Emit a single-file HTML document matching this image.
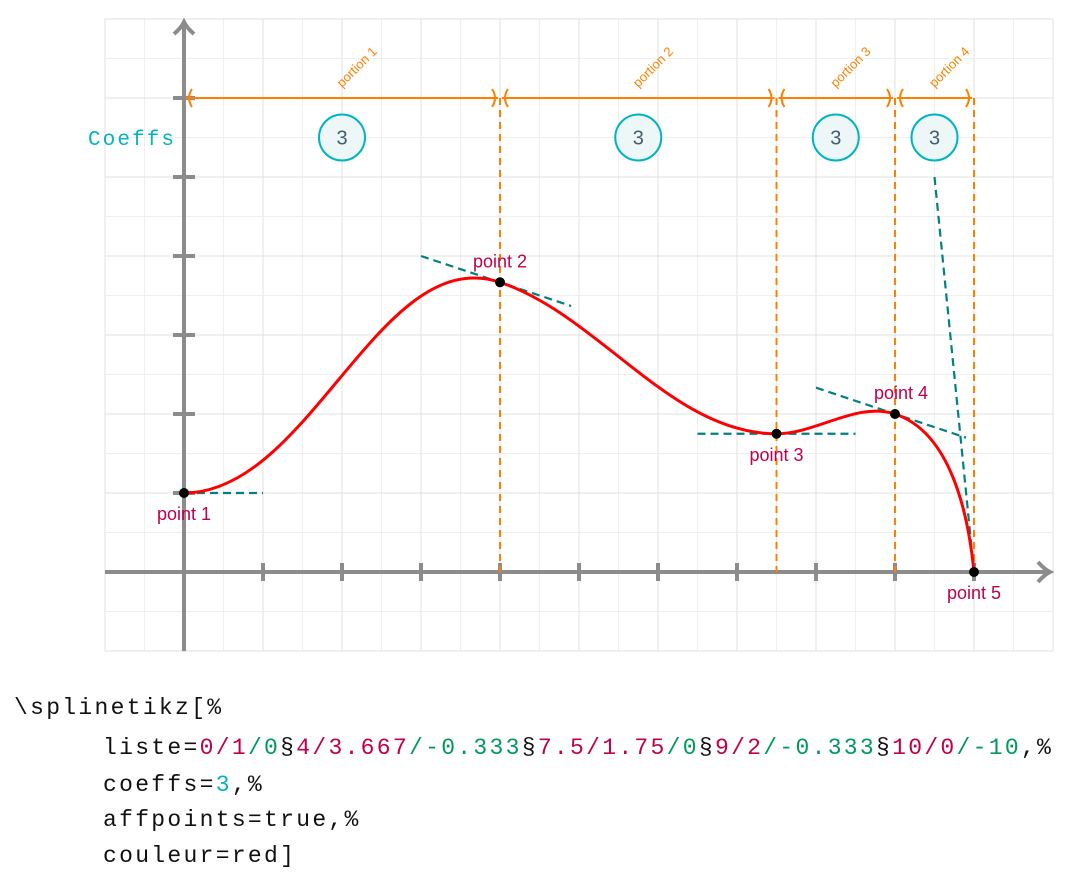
<!DOCTYPE html>
<html><head><meta charset="utf-8"><style>
body{margin:0;background:#fff;width:1089px;height:891px;overflow:hidden;font-family:"Liberation Sans",sans-serif}
svg{position:absolute;left:0;top:0}
.code{position:absolute;font-family:"Liberation Mono",monospace;font-size:23px;letter-spacing:2.3px;color:#111;white-space:pre}
.r{color:#c0004c}.g{color:#009a5a}.c{color:#00b5c0}
</style></head><body>
<svg id="chart" width="1089" height="680" viewBox="0 0 1089 680"></svg>
<div class="code" style="left:14px;top:695px">\splinetikz[%</div>
<div class="code" style="left:103px;top:735px">liste=<span class="r">0/1</span><span class="g">/0</span>§<span class="r">4/3.667</span><span class="g">/-0.333</span>§<span class="r">7.5/1.75</span><span class="g">/0</span>§<span class="r">9/2</span><span class="g">/-0.333</span>§<span class="r">10/0</span><span class="g">/-10</span>,%</div>
<div class="code" style="left:103px;top:772px">coeffs=<span class="c">3</span>,%</div>
<div class="code" style="left:103px;top:807px">affpoints=true,%</div>
<div class="code" style="left:103px;top:843px">couleur=red]</div>
<script>
const xs=[0,4,7.5,9,10];
const ys=[1,3.667,1.75,2,0];
const slopes=[0,-0.333,0,-0.333,-10];
const tanLeft=[0,1,1,1,0.5];
const tanRight=[1,0.9,1,0.9,0];
const pointLabels=["point 1","point 2","point 3","point 4","point 5"];
const portionLabels=["portion 1","portion 2","portion 3","portion 4"];
const coeffs=[3,3,3,3];
const U=79, X0=184, Y0=572;
const sx=x=>X0+x*U, sy=y=>Y0-y*U;
const svg=document.getElementById('chart');
const NS='http://www.w3.org/2000/svg';
function mk(t,a,p){const e=document.createElementNS(NS,t);for(const k in a)e.setAttribute(k,a[k]);(p||svg).appendChild(e);return e;}
for(let i=-2;i<=24;i++){const x=sx(i/2);const l=mk('line',{x1:x,y1:sy(7),x2:x,y2:sy(-1),stroke:i%2?'#efefef':'#e0e0e0','stroke-width':1});
}
for(let i=-2;i<=14;i++){const y=sy(i/2);const l=mk('line',{x1:sx(-1),y1:y,x2:sx(11),y2:y,stroke:i%2?'#efefef':'#e0e0e0','stroke-width':1});
}
let a=mk('line',{x1:sx(-1),y1:Y0,x2:1048,y2:Y0,stroke:'#8c8c8c','stroke-width':4});

a=mk('line',{x1:X0,y1:sy(-1),x2:X0,y2:24,stroke:'#8c8c8c','stroke-width':4});

mk('path',{d:`M1038 562 Q1044 569 1050 572 Q1044 575 1038 582`,fill:'none',stroke:'#8c8c8c','stroke-width':4});
mk('path',{d:`M174 34 Q181 28 184 22 Q187 28 194 34`,fill:'none',stroke:'#8c8c8c','stroke-width':4});
for(let i=1;i<=10;i++){const t=mk('line',{x1:sx(i),y1:Y0-9,x2:sx(i),y2:Y0+9,stroke:'#8c8c8c','stroke-width':4});}
for(let i=1;i<=6;i++){const t=mk('line',{x1:X0-11,y1:sy(i),x2:X0+11,y2:sy(i),stroke:'#8c8c8c','stroke-width':4});}
const yA=sy(6);
for(let i=1;i<xs.length;i++){const v=mk('line',{x1:sx(xs[i]),y1:yA,x2:sx(xs[i]),y2:Y0,stroke:'#ff8000','stroke-width':2,'stroke-dasharray':'7,5'});}
for(let i=0;i<xs.length-1;i++){
 const x1=sx(xs[i]),x2=sx(xs[i+1]);
 const l=mk('line',{x1:x1+2,y1:yA,x2:x2-2,y2:yA,stroke:'#ff8000','stroke-width':2});
 
 mk('path',{d:`M${x1+8} ${yA-9} Q${x1+2} ${yA} ${x1+8} ${yA+9}`,fill:'none',stroke:'#ff8000','stroke-width':2});
 mk('path',{d:`M${x2-8} ${yA-9} Q${x2-2} ${yA} ${x2-8} ${yA+9}`,fill:'none',stroke:'#ff8000','stroke-width':2});
 const mx=(x1+x2)/2;
 const t=mk('text',{x:mx,y:yA-10,fill:'#ff8000','font-size':13,transform:`rotate(-45 ${mx} ${yA-10})`});t.textContent=portionLabels[i];
 
 const c=mk('circle',{cx:mx,cy:sy(5.5),r:23,fill:'#eef7f8',stroke:'#00b5c0','stroke-width':2});
 
 const ct=mk('text',{x:mx,y:sy(5.5)+7,fill:'#406070','font-size':20,'text-anchor':'middle'});ct.textContent=coeffs[i];
 
}
const ck=mk('text',{x:88,y:145,fill:'#00b5c0','font-size':21,'font-family':'Liberation Mono, monospace',textLength:86});ck.textContent='Coeffs';

for(let i=0;i<xs.length;i++){
 const l=mk('line',{x1:sx(xs[i]-tanLeft[i]),y1:sy(ys[i]-slopes[i]*tanLeft[i]),x2:sx(xs[i]+tanRight[i]),y2:sy(ys[i]+slopes[i]*tanRight[i]),stroke:'#008080','stroke-width':2.2,'stroke-dasharray':'8,5'});
 
}
// spline: control points at chord/coeff along unit tangent
let d=`M${sx(xs[0])} ${sy(ys[0])}`;
for(let i=0;i<xs.length-1;i++){
 const L=Math.hypot(xs[i+1]-xs[i],ys[i+1]-ys[i])/coeffs[i];
 const n0=Math.hypot(1,slopes[i]),n1=Math.hypot(1,slopes[i+1]);
 const c1x=xs[i]+L/n0,c1y=ys[i]+L*slopes[i]/n0;
 const c2x=xs[i+1]-L/n1,c2y=ys[i+1]-L*slopes[i+1]/n1;
 d+=` C${sx(c1x)} ${sy(c1y)} ${sx(c2x)} ${sy(c2y)} ${sx(xs[i+1])} ${sy(ys[i+1])}`;}
const sp=mk('path',{d,fill:'none',stroke:'#ff0000','stroke-width':3});

const off=[[0,27],[0,-15],[0,27],[6,-15],[0,27]];
for(let i=0;i<xs.length;i++){
 const p=mk('circle',{cx:sx(xs[i]),cy:sy(ys[i]),r:5,fill:'#000'});
 
 const t=mk('text',{x:sx(xs[i])+off[i][0],y:sy(ys[i])+off[i][1],fill:'#c0004c','font-size':18,'text-anchor':'middle'});t.textContent=pointLabels[i];
 
}
</script>
</body></html>
